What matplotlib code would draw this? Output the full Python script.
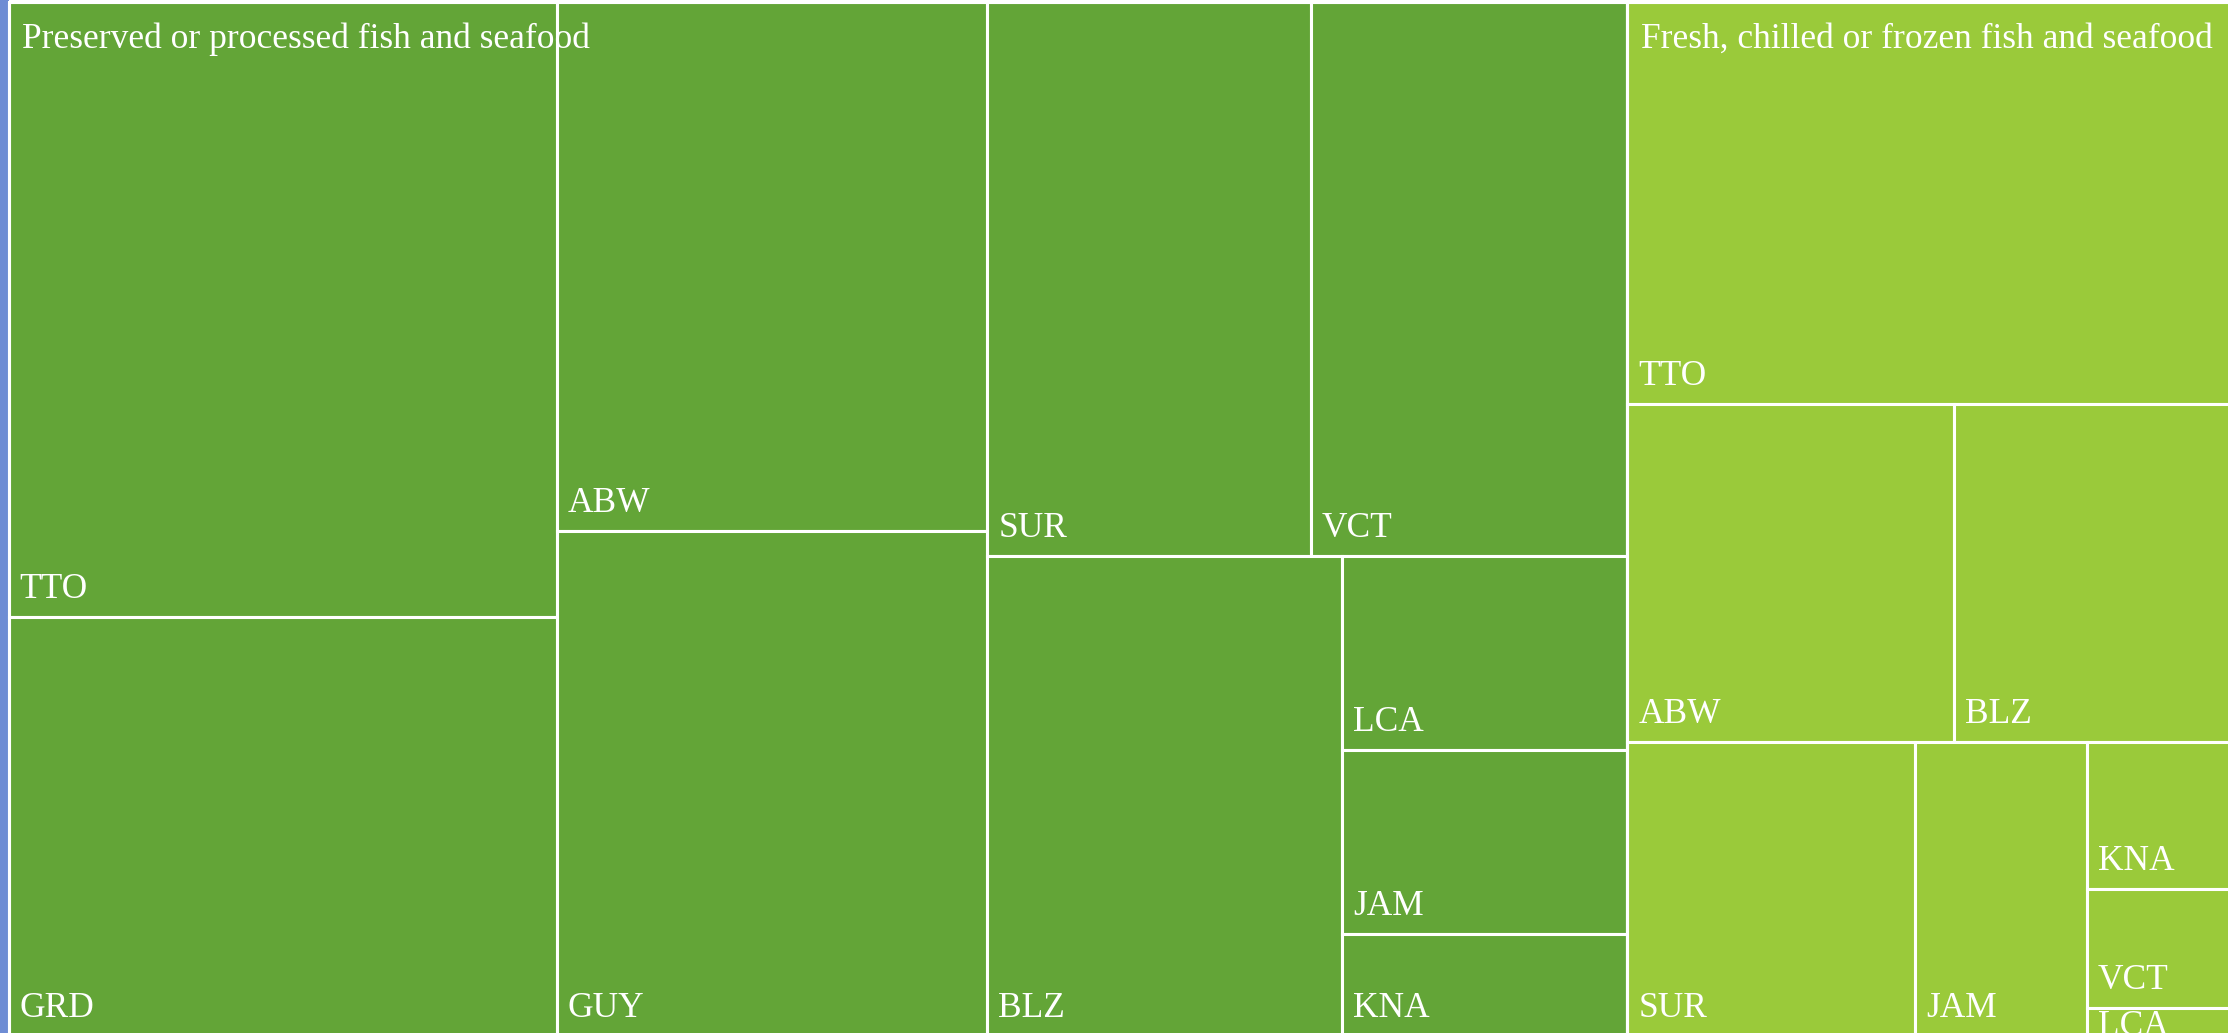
# Treemap of fish and seafood product groups by country

import matplotlib.pyplot as plt
from matplotlib.patches import Rectangle

group_names = ['Preserved or processed fish and seafood',
               'Fresh, chilled or frozen fish and seafood']
group_colors = ['#63a537', '#9aca3a']

preserved_codes = ['TTO', 'GRD', 'ABW', 'GUY', 'SUR', 'VCT', 'BLZ', 'LCA', 'JAM', 'KNA']
preserved_values = [335, 228, 226, 216, 178, 174, 169, 55, 52, 29]

fresh_codes = ['TTO', 'ABW', 'BLZ', 'SUR', 'JAM', 'KNA', 'VCT', 'LCA']
fresh_values = [241, 110, 93, 84, 50, 21, 17, 4]


def worst(row, length):
    s = sum(row)
    return max(max(length**2 * r / s**2, s**2 / (length**2 * r)) for r in row)


def squarify(values, x, y, w, h):
    total = sum(values)
    areas = [v * w * h / total for v in values]
    rects = []
    i = 0
    while i < len(areas):
        length = min(w, h)
        row = [areas[i]]
        j = i + 1
        while j < len(areas) and worst(row + [areas[j]], length) <= worst(row, length):
            row.append(areas[j])
            j += 1
        s = sum(row)
        if w >= h:
            cw = s / h
            yy = y
            for a in row:
                rects.append((x, yy, cw, a / cw))
                yy += a / cw
            x += cw
            w -= cw
        else:
            rh = s / w
            xx = x
            for a in row:
                rects.append((xx, y, a / rh, rh))
                xx += a / rh
            y += rh
            h -= rh
        i = j
    return rects


W, H = 2228, 1033
fig = plt.figure(figsize=(W / 100, H / 100), dpi=100)
ax = fig.add_axes([0, 0, 1, 1])
ax.set_xlim(0, W)
ax.set_ylim(H, 0)
ax.axis('off')

font = 'Liberation Serif'
fs = 25.5
lw = 2.2

# sliver of the neighbouring tile on the left
ax.add_patch(Rectangle((0, 0), 8.5, H, facecolor='#6e8cd4', edgecolor='none'))

x0, y0, x1, y1 = 8.5, 2, W + 3, H + 3
group_totals = [sum(preserved_values), sum(fresh_values)]
group_rects = squarify(group_totals, x0, y0, x1 - x0, y1 - y0)

for (gx, gy, gw, gh), name, color, codes, vals in zip(
        group_rects, group_names, group_colors,
        [preserved_codes, fresh_codes], [preserved_values, fresh_values]):
    for (rx, ry, rw, rh), code in zip(squarify(vals, gx, gy, gw, gh), codes):
        ax.add_patch(Rectangle((rx, ry), rw, rh, facecolor=color,
                               edgecolor='white', linewidth=lw))
        if rh > 50:
            ty = ry + rh - 19
        else:
            ty = ry + 27
        ax.text(rx + 11, ty, code, color='white', fontsize=fs,
                family=font, va='baseline', ha='left')
    ax.add_patch(Rectangle((gx, gy), gw, gh, facecolor='none',
                           edgecolor='white', linewidth=lw))
    ax.text(gx + 14, gy + 46, name, color='white', fontsize=fs,
            family=font, va='baseline', ha='left')

fig.savefig('out.png', dpi=100)
